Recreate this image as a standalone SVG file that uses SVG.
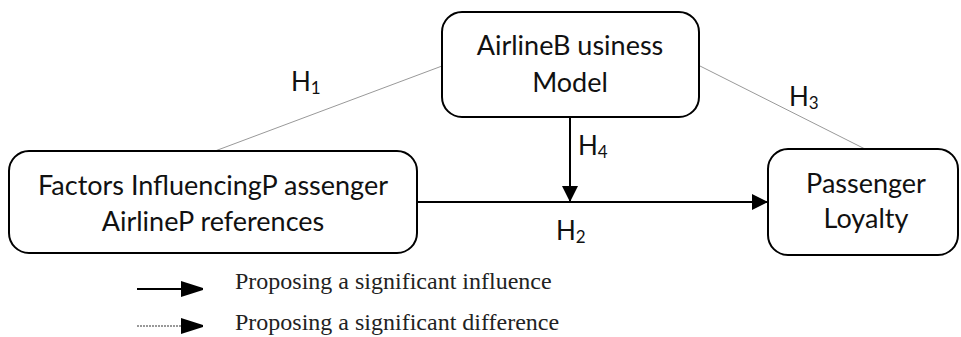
<svg xmlns="http://www.w3.org/2000/svg" width="961" height="337" viewBox="0 0 961 337">
<style>
.box{fill:#fff;stroke:#000;stroke-width:2}
.lbl{font-family:Lato,"Open Sans",sans-serif;font-size:27px;fill:#111;text-anchor:middle}
.h{font-family:Lato,"Open Sans",sans-serif;font-size:26px;fill:#111}
.sub{font-size:17px}
.thin{stroke:#999;stroke-width:1;fill:none}
.arr{stroke:#000;stroke-width:2;fill:none}
.leg{font-family:"Liberation Serif","Times New Roman",serif;font-size:24px;fill:#222}
</style>
<defs>
<marker id="ah" viewBox="0 0 16 16" refX="16" refY="8" markerWidth="16" markerHeight="16" markerUnits="userSpaceOnUse" orient="auto">
<path d="M0,0 L16,8 L0,16 Z" fill="#000"/>
</marker>
<marker id="ahl" viewBox="0 0 22 16" refX="22" refY="8" markerWidth="22" markerHeight="16" markerUnits="userSpaceOnUse" orient="auto">
<path d="M0,0 L22,7 L22,9 L0,16 Z" fill="#000"/>
</marker>
</defs>
<g id="connectors">
<line class="thin" x1="442" y1="66" x2="215" y2="151"/>
<line class="thin" x1="700" y1="66" x2="865" y2="149"/>
<line class="arr" x1="417" y1="202" x2="768" y2="202" marker-end="url(#ah)"/>
<line class="arr" x1="570" y1="118" x2="570" y2="202" marker-end="url(#ah)"/>
<text class="h" x="291" y="91">H<tspan class="sub" dy="3">1</tspan></text>
<text class="h" x="789" y="106">H<tspan class="sub" dy="3">3</tspan></text>
<text class="h" x="578" y="155">H<tspan class="sub" dy="3">4</tspan></text>
<text class="h" x="556" y="240">H<tspan class="sub" dy="3">2</tspan></text>
</g>
<g id="node-business">
<rect class="box" x="442" y="12" width="257" height="105" rx="20"/>
<text class="lbl" x="570" y="55">AirlineB usiness</text>
<text class="lbl" x="570" y="92">Model</text>
</g>
<g id="node-factors">
<rect class="box" x="9" y="151" width="408" height="102" rx="20"/>
<text class="lbl" x="213" y="195">Factors InfluencingP assenger</text>
<text class="lbl" x="213" y="231">AirlineP references</text>
</g>
<g id="node-loyalty">
<rect class="box" x="768" y="149" width="190" height="106" rx="20"/>
<text class="lbl" x="866" y="193">Passenger</text>
<text class="lbl" x="866" y="228">Loyalty</text>
</g>
<g id="legend">
<line x1="137" y1="289" x2="203" y2="289" stroke="#000" stroke-width="2" marker-end="url(#ahl)"/>
<line x1="137" y1="326" x2="203" y2="326" stroke="#999" stroke-width="2" stroke-dasharray="2,1" marker-end="url(#ahl)"/>
<text class="leg" x="235" y="289">Proposing a significant influence</text>
<text class="leg" x="235" y="330">Proposing a significant difference</text>
</g>
</svg>
